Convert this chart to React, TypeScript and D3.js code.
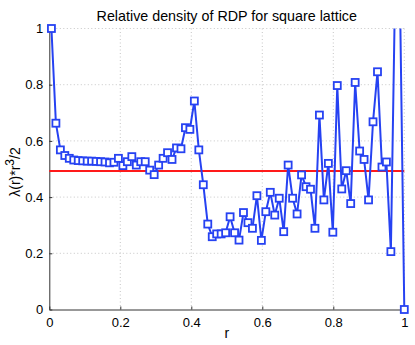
import React, { useEffect, useRef } from "react";
import * as d3 from "d3";

// sample radii (r) and relative density values
const rValues = [
  0.006, 0.0186, 0.0312, 0.0437, 0.0563, 0.0689, 0.0815, 0.0941, 0.1067, 0.1192,
  0.1318, 0.1444, 0.157, 0.1696, 0.1821, 0.1947, 0.2073, 0.2199, 0.2325, 0.2451,
  0.2576, 0.2702, 0.2828, 0.2954, 0.308, 0.3206, 0.3331, 0.3457, 0.3583, 0.3709,
  0.3835, 0.396, 0.4086, 0.4212, 0.4338, 0.4464, 0.459, 0.4715, 0.4841, 0.4967,
  0.5093, 0.5219, 0.5344, 0.547, 0.5596, 0.5722, 0.5848, 0.5974, 0.6099, 0.6225,
  0.6351, 0.6477, 0.6603, 0.6728, 0.6854, 0.698, 0.7106, 0.7232, 0.7358, 0.7483,
  0.7609, 0.7735, 0.7861, 0.7987, 0.8112, 0.8238, 0.8364, 0.849, 0.8616, 0.8742,
  0.8867, 0.8993, 0.9119, 0.9245, 0.9371, 0.9496, 0.9622, 0.9748, 0.9874, 1.0,
];

const densityValues = [
  1.0, 0.663, 0.568, 0.548, 0.538, 0.532, 0.53, 0.529, 0.528, 0.528,
  0.527, 0.526, 0.525, 0.522, 0.524, 0.538, 0.512, 0.526, 0.544, 0.514,
  0.526, 0.526, 0.496, 0.48, 0.514, 0.538, 0.558, 0.534, 0.575, 0.572,
  0.647, 0.641, 0.742, 0.568, 0.444, 0.304, 0.259, 0.269, 0.269, 0.273,
  0.33, 0.273, 0.247, 0.345, 0.309, 0.289, 0.405, 0.246, 0.348, 0.417,
  0.336, 0.396, 0.277, 0.514, 0.396, 0.34, 0.479, 0.437, 0.428, 0.289,
  0.692, 0.39, 0.52, 0.275, 0.797, 0.429, 0.494, 0.377, 0.808, 0.564,
  0.534, 0.39, 0.668, 0.846, 0.507, 0.525, 0.206, 1.2, 1.15, 0.0,
];

const referenceLevel = 0.493;

const xTicks = [0, 0.2, 0.4, 0.6, 0.8, 1];
const yTicks = [0, 0.2, 0.4, 0.6, 0.8, 1];

const DensityChart = () => {
  const ref = useRef<HTMLDivElement>(null);

  useEffect(() => {
    const totalW = 415;
    const totalH = 345;
    const margin = { top: 28.5, left: 49.3 };
    const width = 355;
    const height = 281;
    const font = "'Liberation Sans', Arial, Helvetica, sans-serif";
    const blue = "#2642f2";

    const svg = d3
      .select(ref.current)
      .html("")
      .append("svg")
      .attr("width", totalW)
      .attr("height", totalH)
      .style("position", "absolute")
      .style("left", "0px")
      .style("top", "0px")
      .style("background", "#fff");

    const chart = svg
      .append("g")
      .attr("transform", `translate(${margin.left},${margin.top})`);

    const x = d3.scaleLinear().domain([0, 1]).range([0, width]);
    const y = d3.scaleLinear().domain([0, 1]).range([height, 0]);

    // dotted grid
    chart
      .selectAll("line.vgrid")
      .data(xTicks.filter((d) => d > 0))
      .join("line")
      .attr("x1", (d) => x(d))
      .attr("x2", (d) => x(d))
      .attr("y1", 0)
      .attr("y2", height)
      .attr("stroke", "#b8b8b8")
      .attr("stroke-width", 0.8)
      .attr("stroke-dasharray", "1,2.5");

    chart
      .selectAll("line.hgrid")
      .data(yTicks.filter((d) => d > 0))
      .join("line")
      .attr("x1", 0)
      .attr("x2", width)
      .attr("y1", (d) => y(d))
      .attr("y2", (d) => y(d))
      .attr("stroke", "#b8b8b8")
      .attr("stroke-width", 0.8)
      .attr("stroke-dasharray", "1,2.5");

    // axes
    const xAxis = chart
      .append("g")
      .attr("transform", `translate(0,${height})`)
      .call(
        d3
          .axisBottom(x)
          .tickValues(xTicks)
          .tickSize(-3)
          .tickSizeOuter(0)
          .tickPadding(8)
          .tickFormat((d) => d3.format("~g")(d as number))
      );

    const yAxis = chart.append("g").call(
      d3
        .axisLeft(y)
        .tickValues(yTicks)
        .tickSize(-3)
        .tickSizeOuter(0)
        .tickPadding(6)
        .tickFormat((d) => d3.format("~g")(d as number))
    );

    [xAxis, yAxis].forEach((a) => {
      a.select(".domain").attr("stroke", "#333").attr("stroke-width", 1);
      a.selectAll(".tick line").attr("stroke", "#333");
      a.selectAll(".tick text")
        .attr("fill", "#000")
        .style("font-family", font)
        .style("font-size", "13px");
    });

    // red reference line
    chart
      .append("line")
      .attr("x1", 0)
      .attr("x2", width)
      .attr("y1", y(referenceLevel))
      .attr("y2", y(referenceLevel))
      .attr("stroke", "#ff1a1a")
      .attr("stroke-width", 2);

    // clip for the data line
    svg
      .append("defs")
      .append("clipPath")
      .attr("id", "plotClip")
      .append("rect")
      .attr("x", -3)
      .attr("y", 0)
      .attr("width", width + 6)
      .attr("height", height + 3);

    const points = rValues.map((r, i) => ({ r, v: densityValues[i] }));

    const line = d3
      .line<{ r: number; v: number }>()
      .x((d) => x(d.r))
      .y((d) => y(d.v));

    chart
      .append("path")
      .datum(points)
      .attr("clip-path", "url(#plotClip)")
      .attr("fill", "none")
      .attr("stroke", blue)
      .attr("stroke-width", 2)
      .attr("stroke-linejoin", "round")
      .attr("d", line);

    const s = 7;
    chart
      .selectAll("rect.marker")
      .data(points.filter((d) => d.v <= 1))
      .join("rect")
      .attr("class", "marker")
      .attr("x", (d) => x(d.r) - s / 2)
      .attr("y", (d) => y(d.v) - s / 2)
      .attr("width", s)
      .attr("height", s)
      .attr("fill", "#fff")
      .attr("stroke", blue)
      .attr("stroke-width", 1.8);

    // title
    svg
      .append("text")
      .attr("x", margin.left + width / 2)
      .attr("y", 20.5)
      .attr("text-anchor", "middle")
      .style("font-family", font)
      .style("font-size", "14.3px")
      .attr("fill", "#000")
      .text("Relative density of RDP for square lattice");

    // x label
    svg
      .append("text")
      .attr("x", margin.left + width / 2)
      .attr("y", 338)
      .attr("text-anchor", "middle")
      .style("font-family", font)
      .style("font-size", "14px")
      .attr("fill", "#000")
      .text("r");

    // y label with superscript
    const yl = svg
      .append("text")
      .attr("transform", `translate(19.5,${margin.top + height / 2 + 3}) rotate(-90)`)
      .attr("text-anchor", "middle")
      .style("font-family", font)
      .style("font-size", "14px")
      .attr("fill", "#000");
    yl.append("tspan").text("λ(r)*r");
    yl.append("tspan").attr("dy", -6).style("font-size", "12px").text("3");
    yl.append("tspan").attr("dy", 6).text("/2");
  }, []);

  return <div ref={ref} />;
};

export default function App() {
  return <DensityChart />;
}
